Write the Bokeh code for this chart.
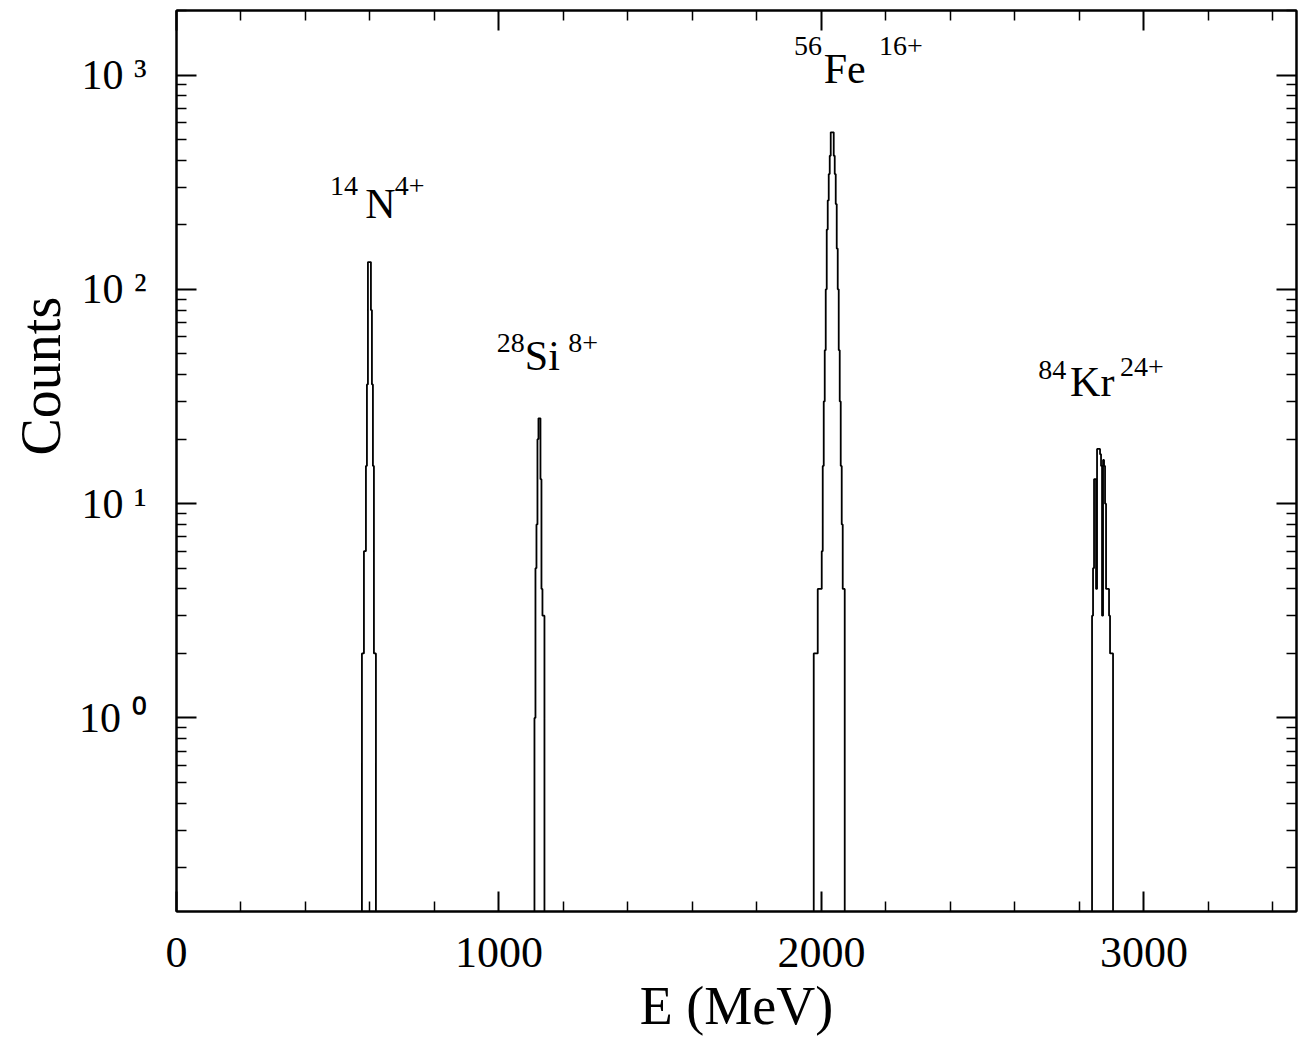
import math
from bokeh.plotting import figure
from bokeh.models import (Range1d, FixedTicker, LinearAxis, LogAxis, Label, Title,
                          CustomLabelingPolicy)
from bokeh.embed import file_html
from bokeh.resources import INLINE

# ---------------- data ----------------
bin_width = 3.1  # MeV per histogram bin

n_start = 575
n_counts = [2, 2, 6, 6, 15, 36, 134, 134, 134, 80, 36, 15, 2, 2]

si_start = 1110
si_counts = [1, 5, 8, 20, 25, 25, 13, 4, 3, 3]

fe_start = 1976
fe_counts = [2, 2, 2, 2, 4, 4, 4, 4, 6, 15, 30, 52, 100, 190, 260, 345, 420,
             540, 540, 540, 420, 345, 250, 155, 100, 52, 30, 15, 8, 4, 4]

kr_start = 2839
kr_counts = [3, 5, 13, 13, 4, 18, 18, 18, 17, 15, 3, 16, 15, 10, 4, 4, 4, 3, 2, 2, 2]

x_ticks = [0, 1000, 2000, 3000]
x_minor = [200, 400, 600, 800, 1200, 1400, 1600, 1800, 2200, 2400, 2600, 2800, 3200, 3400]
y_ticks = [1, 10, 100, 1000]
y_tick_labels = ["10 \u2070", "10 \u00b9", "10 \u00b2", "10 \u00b3"]
y_minor = [k * 10.0 ** e for e in range(-1, 4) for k in range(2, 10)]

# peak annotations: (prefix superscript, element, suffix superscript)
peak_pre = ["14", "28", "56", "84"]
peak_main = ["N", "Si", "Fe", "Kr"]
peak_post = ["4+", "8+", "16+", "24+"]
# anchor positions (left edge / baseline) in data units
pre_x = [476, 993, 1915, 2672]
pre_y = [272, 50.2, 1227, 37.6]
main_x = [585, 1080, 2007, 2771]
main_y = [212, 41.4, 908, 31.6]
post_x = [677, 1215, 2178, 2926]
post_y = [272, 50.2, 1227, 38.8]

FONT = "Liberation Serif"
FLOOR = 0.05

# ---------------- figure ----------------
p = figure(width=1300, height=1041,
           x_range=Range1d(0, 3473), y_range=Range1d(0.125, 2000),
           y_axis_type="log", output_backend="svg", toolbar_location=None,
           min_border_left=176, min_border_right=0, min_border_top=10,
           min_border_bottom=130)
p.grid.visible = False
p.outline_line_color = "black"
p.outline_line_width = 2
p.background_fill_color = "white"
p.border_fill_color = "white"

no_labels = "return new Set()"


def style_axis(ax, hide_labels):
    ax.axis_line_width = 2
    ax.major_tick_line_width = 2
    ax.minor_tick_line_width = 1.5
    ax.major_tick_in = 20
    ax.major_tick_out = 0
    ax.minor_tick_in = 10
    ax.minor_tick_out = 0
    ax.axis_line_color = "black"
    ax.major_tick_line_color = "black"
    ax.minor_tick_line_color = "black"
    if hide_labels:
        ax.major_label_policy = CustomLabelingPolicy(code=no_labels)
        ax.major_label_text_font_size = "1px"
        ax.major_label_standoff = 0


p.xaxis.ticker = FixedTicker(ticks=x_ticks, minor_ticks=x_minor)
p.yaxis.ticker = FixedTicker(ticks=y_ticks, minor_ticks=y_minor)
for ax in p.xaxis:
    style_axis(ax, False)
    ax.major_label_text_font = FONT
    ax.major_label_text_font_size = "44px"
    ax.major_label_text_color = "black"
    ax.major_label_standoff = 26
    ax.axis_label = "E (MeV)"
    ax.axis_label_text_font = FONT
    ax.axis_label_text_font_size = "54px"
    ax.axis_label_text_font_style = "normal"
    ax.axis_label_text_color = "black"
    ax.axis_label_standoff = 6
for ax in p.yaxis:
    style_axis(ax, False)
    ax.major_label_overrides = dict(zip(y_ticks, y_tick_labels))
    ax.major_label_text_font = FONT
    ax.major_label_text_font_size = "42px"
    ax.major_label_text_color = "black"
    ax.major_label_standoff = 30

top = LinearAxis(ticker=FixedTicker(ticks=x_ticks, minor_ticks=x_minor))
style_axis(top, True)
p.add_layout(top, "above")
right = LogAxis(ticker=FixedTicker(ticks=y_ticks, minor_ticks=y_minor))
style_axis(right, True)
p.add_layout(right, "right")

p.add_layout(Title(text="Counts", align="left", offset=456, standoff=8,
                   text_font=FONT, text_font_size="56px", text_font_style="normal",
                   text_color="black"), "left")


# ---------------- histograms ----------------
def steps(start, counts):
    xs = [start]
    ys = [FLOOR]
    for i, c in enumerate(counts):
        left = start + i * bin_width
        xs += [left, left + bin_width]
        ys += [c, c]
    xs.append(start + len(counts) * bin_width)
    ys.append(FLOOR)
    return xs, ys


for st, cn in [(n_start, n_counts), (si_start, si_counts),
               (fe_start, fe_counts), (kr_start, kr_counts)]:
    xs, ys = steps(st, cn)
    p.line(xs, ys, line_color="black", line_width=1.8)

# ---------------- peak labels ----------------
for i in range(len(peak_main)):
    p.add_layout(Label(x=pre_x[i], y=pre_y[i], y_offset=10, text=peak_pre[i],
                       text_font=FONT, text_font_size="28px", text_align="left",
                       text_baseline="alphabetic", text_color="black"))
    p.add_layout(Label(x=main_x[i], y=main_y[i], y_offset=15, text=peak_main[i],
                       text_font=FONT, text_font_size="42px", text_align="left",
                       text_baseline="alphabetic", text_color="black"))
    p.add_layout(Label(x=post_x[i], y=post_y[i], y_offset=10, text=peak_post[i],
                       text_font=FONT, text_font_size="28px", text_align="left",
                       text_baseline="alphabetic", text_color="black"))

open("out.html", "w").write(file_html(p, INLINE))
